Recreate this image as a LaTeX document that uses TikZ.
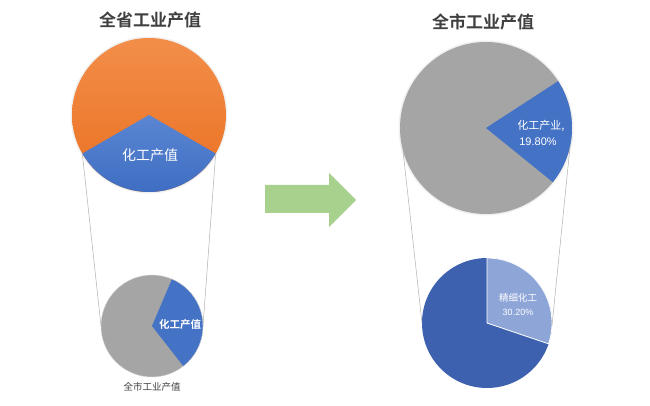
\documentclass[tikz,border=0pt]{standalone}
\usepackage{fontspec}
\setmainfont{Noto Sans CJK SC}[BoldFont={Noto Sans CJK SC Bold}]
\newfontfamily\numfont{Liberation Sans}
\usetikzlibrary{calc}
\definecolor{orTop}{HTML}{F28E4A}
\definecolor{orBot}{HTML}{EA7020}
\definecolor{blTop}{HTML}{5A86D2}
\definecolor{blBot}{HTML}{3B6AC0}
\definecolor{bl}{HTML}{4472C4}
\definecolor{gr}{HTML}{A5A5A5}
\definecolor{dkbl}{HTML}{3E61AF}
\definecolor{ltbl}{HTML}{8EA5D8}
\definecolor{arrowgreen}{HTML}{A9D18E}
\definecolor{titlegray}{HTML}{404040}
\definecolor{linegray}{HTML}{B0B0B0}
\tikzset{
  titletext/.style={text=titlegray,font=\bfseries\fontsize{17}{20}\selectfont,inner sep=0pt},
  wtext/.style={text=white,inner sep=0pt,align=center},
  conn/.style={draw=linegray,line width=0.5pt},
  wedge/.style={draw=white,line width=0.8pt},
}
\begin{document}
\begin{tikzpicture}[x=1pt,y=1pt]
\useasboundingbox (0,0) rectangle (650,406);
\fill[white] (0,0) rectangle (650,406);
% ---------- left top pie ----------
\coordinate (LT) at (149,291);
\fill[black!6] (LT) circle (78.5);
\shade[top color=orTop,bottom color=orBot] (LT) circle (77);
\shade[top color=blTop,bottom color=blBot] (LT) -- ++(210:77) arc (210:330:77) -- cycle;
\node[titletext] (t1) at (150,386) {全省工业产值};
\node[wtext,font=\fontsize{14}{16}\selectfont] (l1) at (150,251) {化工产值};
% ---------- left small pie ----------
\coordinate (LS) at (152,80);
\fill[gr] (LS) circle (51);
\fill[bl] (LS) -- ++(-52:51) arc (-52:67:51) -- cycle;
\draw[draw=gray!30,line width=0.4pt] (LS) circle (51);
\node[wtext,font=\bfseries\fontsize{10.5}{12}\selectfont] (l2) at (180,81) {化工产值};
\node[text=titlegray,inner sep=0pt,font=\fontsize{9.5}{11}\selectfont] (l3) at (152,19) {全市工业产值};
% connectors left
\coordinate (a1) at ($(LT)+(210:77)$);
\coordinate (a2) at ($(LT)+(330:77)$);
\coordinate (b1) at ($(LS)+(180:51)$);
\coordinate (b2) at ($(LS)+(0:51)$);
\draw[conn] (a1) -- (b1);
\draw[conn] (a2) -- (b2);
% ---------- arrow ----------
\fill[arrowgreen] (265,221) -- (329,221) -- (329,233) -- (356,206) -- (329,179) -- (329,193) -- (265,193) -- cycle;
% ---------- right top pie ----------
\coordinate (RT) at (486,278);
\fill[black!6] (RT) circle (87.5);
\fill[gr] (RT) circle (86);
\fill[bl] (RT) -- ++(-39:86) arc (-39:33:86) -- cycle;
\node[titletext] (t2) at (483,384) {全市工业产值};
\node[wtext,font=\fontsize{11}{13}\selectfont] (l4) at (541,280) {化工产业,};
\node[wtext,font=\numfont\fontsize{11}{13}\selectfont] (l5) at (538,264) {19.80\%};
% ---------- right bottom pie ----------
\coordinate (RB) at (487,83);
\fill[dkbl] (RB) circle (65);
\fill[ltbl,wedge] (RB) -- ++(-18.7:65) arc (-18.7:90:65) -- cycle;
\node[wtext,font=\fontsize{9.5}{11}\selectfont] (l6) at (518,108) {精细化工};
\node[wtext,font=\numfont\fontsize{9}{11}\selectfont] (l7) at (518,94) {30.20\%};
% connectors right
\coordinate (c1) at ($(RT)+(195:86)$);
\coordinate (c2) at ($(RT)+(-12:86)$);
\coordinate (d1) at ($(RB)+(180:65)$);
\coordinate (d2) at ($(RB)+(-3:65)$);
\draw[conn] (c1) -- (d1);
\draw[conn] (c2) -- (d2);
\end{tikzpicture}
\end{document}
